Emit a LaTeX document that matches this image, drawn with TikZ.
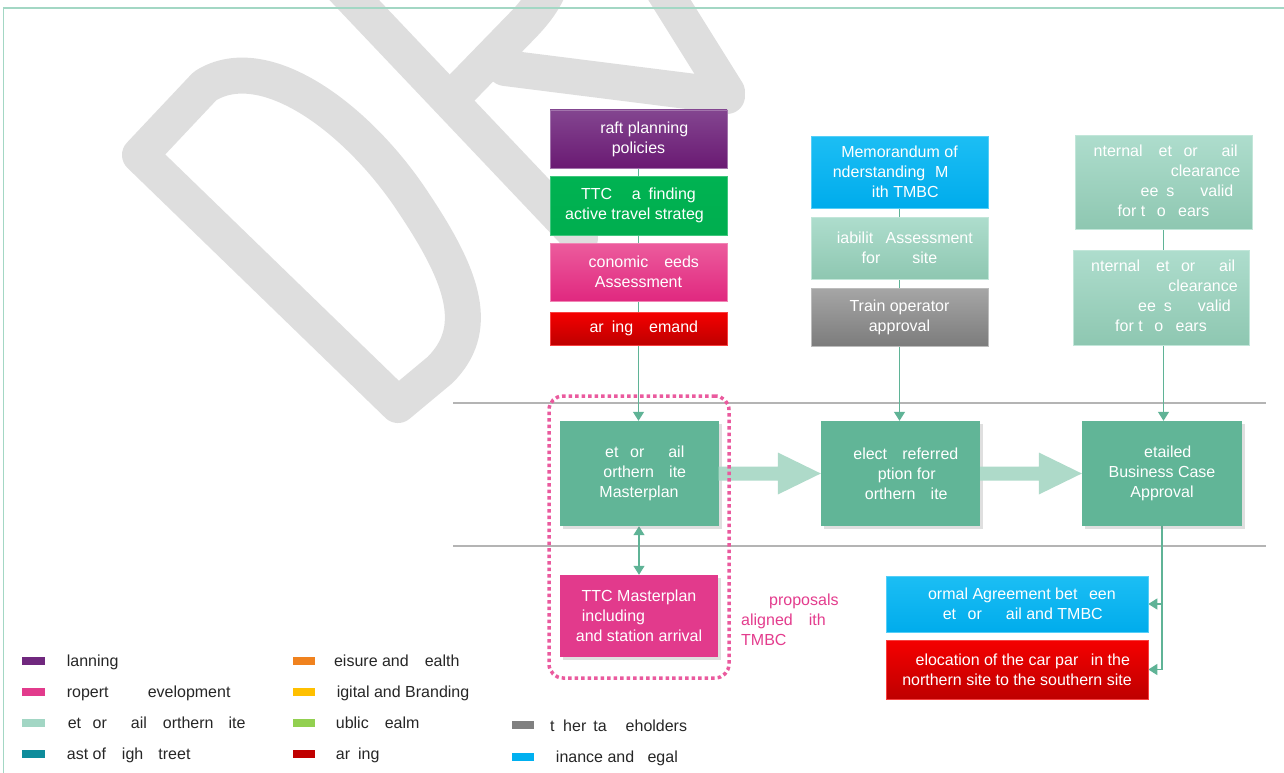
\documentclass[tikz,border=0pt]{standalone}
\usepackage{fontspec}
\setmainfont{Liberation Sans}
\usetikzlibrary{shadows,arrows.meta,calc}
\pgfdeclarelayer{wmark}
\pgfdeclarelayer{links}
\pgfsetlayers{wmark,links,main}

% palette
\definecolor{wmgray}{HTML}{DEDEDE}
\definecolor{framec}{HTML}{A3D7C4}
\definecolor{linkc}{HTML}{5FB396}
\definecolor{midc}{HTML}{61B597}
\definecolor{blockc}{HTML}{AEDAC9}
\definecolor{rulec}{HTML}{B4B4B4}
\definecolor{dotpink}{HTML}{EA5A9E}
\definecolor{txtpink}{HTML}{E33C8D}
\definecolor{purpT}{HTML}{834590}
\definecolor{purpB}{HTML}{6A1A73}
\definecolor{grnT}{HTML}{00B352}
\definecolor{grnB}{HTML}{00AE4F}
\definecolor{pinkT}{HTML}{EC5C9D}
\definecolor{pinkB}{HTML}{E0287F}
\definecolor{redT}{HTML}{F50000}
\definecolor{redB}{HTML}{BE0000}
\definecolor{blueT}{HTML}{1CBEF4}
\definecolor{blueB}{HTML}{00ACEC}
\definecolor{ltT}{HTML}{AEDDCD}
\definecolor{ltB}{HTML}{8EC7B1}
\definecolor{grayT}{HTML}{A6A6A6}
\definecolor{grayB}{HTML}{7C7C7C}
\definecolor{ttcpink}{HTML}{E23A8C}
\definecolor{lgPurple}{HTML}{70287E}
\definecolor{lgPink}{HTML}{E23B8C}
\definecolor{lgLight}{HTML}{A2D6C4}
\definecolor{lgTeal}{HTML}{0E8C9B}
\definecolor{lgOrange}{HTML}{F0821E}
\definecolor{lgYellow}{HTML}{FFC000}
\definecolor{lgGreen}{HTML}{92D050}
\definecolor{lgRed}{HTML}{C00000}
\definecolor{lgGray}{HTML}{808080}
\definecolor{lgBlue}{HTML}{00B0F0}

\newcommand\gp[1]{\hbox to #1pt{}}

\tikzset{
  box/.style={inner sep=0pt, align=center, text=white,
    font=\fontsize{16}{20}\selectfont, minimum width=177pt},
  grad/.style 2 args={top color=#1, bottom color=#2, draw=#1!75!white, line width=0.6pt},
  midbox/.style={box, fill=midc, minimum width=159pt, minimum height=105pt,
    drop shadow={shadow xshift=3pt, shadow yshift=-3pt, opacity=0.25}},
  link/.style={draw=linkc, line width=1.2pt},
  tip/.style={-{Triangle[width=11pt,length=9pt]}},
  wmstroke/.style={draw=wmgray, line width=36pt, line join=round, line cap=round},
  rulestyle/.style={draw=rulec, line width=2pt},
  sw/.style={minimum width=23pt, minimum height=8pt, inner sep=0pt, fill=#1},
  lgtext/.style={anchor=base west, inner sep=0pt, font=\fontsize{16}{20}\selectfont, text=black!85},
}

\begin{document}
\begin{tikzpicture}[x=1pt, y=-1pt]
\useasboundingbox (0,0) rectangle (1284,773);

% watermark lettering
\begin{pgfonlayer}{wmark}
  \draw[wmstroke] (140,155) -- (205,86) .. controls (265,48) and (360,120) .. (415,205)
    .. controls (465,280) and (480,330) .. (440,370) -- (398,405) -- cycle;
  \draw[wmstroke] (340,-15) -- (580,238);
  \draw[wmstroke] (452,98) -- (520,28) .. controls (560,-12) and (560,-40) .. (540,-70);
  \draw[wmstroke] (505,68) -- (727,96);
  \draw[wmstroke] (662,-12) -- (727,92);
\end{pgfonlayer}

% page frame
\draw[framec, line width=1.5pt] (3.5,773) -- (3.5,8) -- (1284,8);

% input column 1
\node[box, grad={purpT}{purpB}, minimum height=58pt] (draft) at (638.5,139)
  {\phantom{D}raft planning\\policies};
\node[box, grad={grnT}{grnB}, minimum height=59pt] (wayf) at (638.5,205.5)
  {TTC \phantom{W}a\phantom{y}finding\\active travel strateg\phantom{y}};
\node[box, grad={pinkT}{pinkB}, minimum height=58pt] (econ) at (638.5,272)
  {\phantom{E}conomic \phantom{N}eeds\\Assessment};
\node[box, grad={redT}{redB}, minimum height=33pt] (park) at (638.5,328.5)
  {\phantom{P}ar\phantom{k}ing \phantom{D}emand};

% input column 2
\node[box, grad={blueT}{blueB}, minimum height=72pt] (mou) at (899.5,172)
  {Memorandum of\\\phantom{U}nderstanding \phantom{(}M\phantom{OU)}\\\phantom{w}ith TMBC};
\node[box, grad={ltT}{ltB}, minimum height=62pt] (viab) at (899.5,248)
  {\phantom{V}iabilit\phantom{y} Assessment\\for \phantom{NR} site};
\node[box, grad={grayT}{grayB}, minimum height=58pt] (train) at (899.5,317)
  {Train operator\\approval};

% input column 3
\node[box, grad={ltT}{ltB}, minimum height=94pt] (clr1) at (1163.5,182)
  {\phantom{I}nternal \phantom{N}et\phantom{w}or\phantom{k} \phantom{R}ail\\\gp{84}clearance\\\gp{47}ee\phantom{k}s\gp{26}valid\\for t\phantom{w}o \phantom{y}ears};
\node[box, grad={ltT}{ltB}, minimum width=176pt, minimum height=95pt] (clr2) at (1161,297.5)
  {\phantom{I}nternal \phantom{N}et\phantom{w}or\phantom{k} \phantom{R}ail\\\gp{84}clearance\\\gp{47}ee\phantom{k}s\gp{26}valid\\for t\phantom{w}o \phantom{y}ears};

% main stages
\node[midbox] (nrms) at (639,473.5)
  {\phantom{N}et\phantom{w}or\phantom{k} \phantom{R}ail\\\phantom{N}orthern \phantom{S}ite\\Masterplan};
\node[midbox] (spo) at (900.5,473.5)
  {\phantom{S}elect \phantom{P}referred\\\phantom{O}ption for\\\phantom{N}orthern \phantom{S}ite};
\node[midbox, minimum width=160pt] (dbc) at (1162,473.5)
  {\phantom{D}etailed\\Business Case\\Approval};

% outputs
\node[box, fill=ttcpink, minimum width=158pt, minimum height=82pt,
  drop shadow={shadow xshift=3pt, shadow yshift=-3pt, opacity=0.25}] (ttcm) at (639,616)
  {TTC Masterplan\\including\gp{51}\\and station arrival};
\node[box, grad={blueT}{blueB}, minimum width=262pt, minimum height=56pt] (formal) at (1017,604)
  {\phantom{F}ormal Agreement bet\phantom{w}een\\\phantom{N}et\phantom{w}or\phantom{k} \phantom{R}ail and TMBC};
\node[box, grad={redT}{redB}, minimum width=262pt, minimum height=59pt] (reloc) at (1017,669.5)
  {\phantom{R}elocation of the car par\phantom{k} in the\\northern site to the southern site};

% side note (base anchor sits on the last line)
\node[anchor=base west, align=left, inner sep=0pt, text=txtpink,
  font=\fontsize{16}{20}\selectfont] (note) at (741,645)
  {\gp{28}proposals\\aligned \phantom{w}ith\\TMBC};

% swim-lane rules and connectors
\begin{pgfonlayer}{links}
  \draw[rulestyle] (453,403) -- (1266,403);
  \draw[rulestyle] (453,546) -- (1266,546);
  \draw[link, tip] (draft.south) -- (draft.south |- nrms.north);
  \draw[link, tip] (mou.south) -- (mou.south |- spo.north);
  \draw[link, tip] (clr1.south) -- (clr1.south |- dbc.north);
  \draw[link, {Triangle[width=11pt,length=9pt]}-{Triangle[width=11pt,length=9pt]}]
    (nrms.south) -- (ttcm.north);
  \draw[link, tip] (dbc.south) |- (formal.east);
  \draw[link, tip] (dbc.south) |- (reloc.east);
\end{pgfonlayer}

% block arrows between stages
\fill[blockc] ($(nrms.east)+(0,-7)$) -- ($(spo.west)+(-43,-7)$) -- ($(spo.west)+(-43,-21)$)
  -- (spo.west) -- ($(spo.west)+(-43,21)$) -- ($(spo.west)+(-43,7)$) -- ($(nrms.east)+(0,7)$) -- cycle;
\fill[blockc] ($(spo.east)+(0,-7)$) -- ($(dbc.west)+(-43,-7)$) -- ($(dbc.west)+(-43,-21)$)
  -- (dbc.west) -- ($(dbc.west)+(-43,21)$) -- ($(dbc.west)+(-43,7)$) -- ($(spo.east)+(0,7)$) -- cycle;

% dotted grouping
\node[draw=dotpink, line width=3.5pt, dash pattern=on 3.5pt off 3pt, rounded corners=14pt,
  minimum width=180pt, minimum height=282pt, inner sep=0pt] (grp) at (639,537) {};

% legend
\node[sw=lgPurple] (s1) at (33.5,660.5) {};
\node[lgtext] (t1) at (56,666.5) {\phantom{P}lanning};
\node[sw=lgPink] (s2) at (33.5,691.5) {};
\node[lgtext] (t2) at (56,697.5) {\phantom{P}ropert\phantom{y} \phantom{\&} \phantom{D}evelopment};
\node[sw=lgLight] (s3) at (33.5,722.5) {};
\node[lgtext] (t3) at (56,728.5) {\phantom{N}et\phantom{w}or\phantom{k} \phantom{R}ail \phantom{N}orthern \phantom{S}ite};
\node[sw=lgTeal] (s4) at (33.5,753.5) {};
\node[lgtext] (t4) at (56,759.5) {\phantom{E}ast of \phantom{H}igh \phantom{S}treet};

\node[sw=lgOrange, minimum width=22pt] (s5) at (304,660.5) {};
\node[lgtext] (t5) at (325,666.5) {\phantom{L}eisure and \phantom{H}ealth};
\node[sw=lgYellow, minimum width=22pt] (s6) at (304,691.5) {};
\node[lgtext] (t6) at (325,697.5) {\phantom{D}igital and Branding};
\node[sw=lgGreen, minimum width=22pt] (s7) at (304,722.5) {};
\node[lgtext] (t7) at (325,728.5) {\phantom{P}ublic \phantom{R}ealm};
\node[sw=lgRed, minimum width=22pt] (s8) at (304,753.5) {};
\node[lgtext] (t8) at (325,759.5) {\phantom{P}ar\phantom{k}ing};

\node[sw=lgGray, minimum width=22pt] (s9) at (523,725) {};
\node[lgtext] (t9) at (546,731) {\gp{4}t\gp{8.6}her\gp{7}ta\gp{19}eholders};
\node[sw=lgBlue, minimum width=22pt] (s10) at (523,756.5) {};
\node[lgtext] (t10) at (546,762.5) {\phantom{F}inance and \phantom{L}egal};
\end{tikzpicture}
\end{document}
